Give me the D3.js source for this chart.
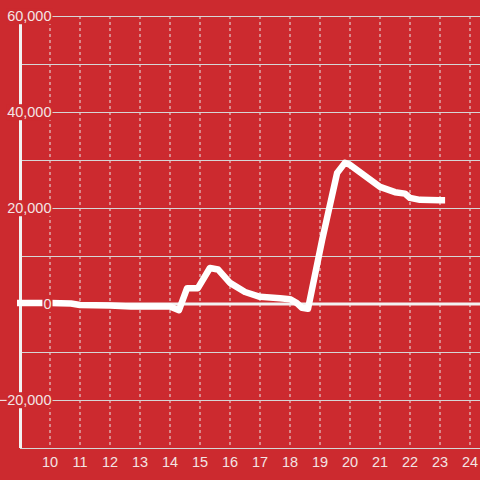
<!DOCTYPE html>
<html>
<head>
<meta charset="utf-8">
<script src="https://cdn.jsdelivr.net/npm/d3@7"></script>
<style>
  html, body { margin: 0; padding: 0; background: #cc2a2f; }
  svg { display: block; }
</style>
</head>
<body>
<div id="chart"></div>
<script>
// hour of day (decimal) and value
const hours = [8.9, 10, 10.7, 11, 12, 12.7, 14, 14.3, 14.57, 14.93, 15.33, 15.6, 16, 16.5, 17, 17.67, 18, 18.23, 18.4, 18.6, 19.07, 19.57, 19.83, 20, 20.5, 21, 21.5, 21.83, 22, 22.33, 23, 23.17]
const values = [200, 200, 100, -200, -300, -500, -500, -1300, 3300, 3300, 7500, 7200, 4400, 2500, 1500, 1200, 1000, 200, -800, -1000, 13300, 27300, 29400, 29000, 26700, 24400, 23300, 23000, 22100, 21700, 21600, 21600]

const xTicks = [10, 11, 12, 13, 14, 15, 16, 17, 18, 19, 20, 21, 22, 23, 24]
const yGrid = [-30000, -20000, -10000, 0, 10000, 20000, 30000, 40000, 50000, 60000]
const yLabels = [-20000, 0, 20000, 40000, 60000]

const width = 480, height = 480
const bg = '#cc2a2f'
const ink = '#f3e4e4'
const font = '14.5px "Liberation Sans", Arial, sans-serif'

const svg = d3.select('#chart').append('svg')
  .attr('width', width)
  .attr('height', height)

svg.append('rect').attr('width', width).attr('height', height).attr('fill', bg)

const x = d3.scaleLinear().domain([9, 24 + 1 / 3]).range([20, 480])
const y = d3.scaleLinear().domain([-30000, 60000]).range([448, 16])

// vertical dotted grid
svg.append('g')
  .selectAll('line')
  .data(xTicks)
  .join('line')
  .attr('x1', d => x(d)).attr('x2', d => x(d))
  .attr('y1', y(60000)).attr('y2', y(-30000))
  .attr('stroke', '#e8e8e8')
  .attr('stroke-width', 1)
  .attr('stroke-dasharray', '3,3')

// horizontal grid
svg.append('g')
  .selectAll('line')
  .data(yGrid.filter(d => d != 0))
  .join('line')
  .attr('x1', x(9)).attr('x2', width)
  .attr('y1', d => y(d) + 0.5).attr('y2', d => y(d) + 0.5)
  .attr('stroke', '#d6d6d6')
  .attr('stroke-width', 1)

// zero baseline
svg.append('line')
  .attr('x1', x(9)).attr('x2', width)
  .attr('y1', y(0)).attr('y2', y(0))
  .attr('stroke', '#f2f2f2')
  .attr('stroke-width', 3)

// y axis line
svg.append('line')
  .attr('x1', 20.5).attr('x2', 20.5)
  .attr('y1', y(60000)).attr('y2', y(-30000))
  .attr('stroke', '#f2f2f2')
  .attr('stroke-width', 3)

// data line
const line = d3.line()
  .x((d, i) => x(hours[i]))
  .y(d => y(d))

svg.append('path')
  .datum(values)
  .attr('d', line)
  .attr('fill', 'none')
  .attr('stroke', '#ffffff')
  .attr('stroke-width', 6.5)
  .attr('stroke-linejoin', 'round')

// y labels with a background patch
const fmt = d3.format(',')
const yl = svg.append('g')
  .selectAll('g')
  .data(yLabels)
  .join('g')
  .attr('transform', d => `translate(51.5,${y(d)})`)

yl.append('text')
  .attr('text-anchor', 'end')
  .attr('dy', '0.36em')
  .attr('fill', ink)
  .style('font', font)
  .text(d => fmt(d))

yl.each(function() {
  const g = d3.select(this)
  const b = g.select('text').node().getBBox()
  g.insert('rect', 'text')
    .attr('x', b.x - 1).attr('y', b.y)
    .attr('width', b.width + 2).attr('height', b.height)
    .attr('fill', bg)
})

// x labels
svg.append('g')
  .selectAll('text')
  .data(xTicks)
  .join('text')
  .attr('x', d => x(d))
  .attr('y', 467)
  .attr('text-anchor', 'middle')
  .attr('fill', ink)
  .style('font', font)
  .text(d => d)
</script>
</body>
</html>
